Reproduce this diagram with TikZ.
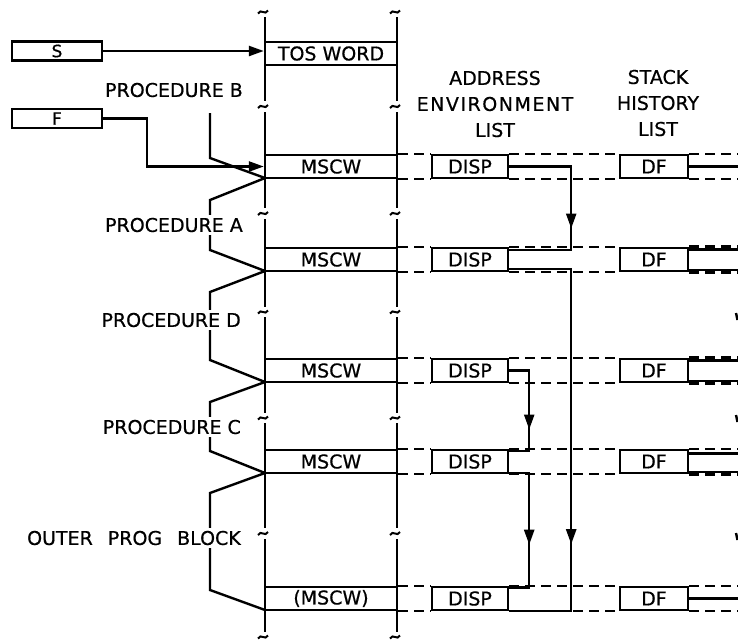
\documentclass[tikz,border=0pt]{standalone}
\usepackage{fontspec}
\setmainfont{DejaVu Sans}[FakeBold=0.6]
\usetikzlibrary{arrows.meta,decorations.markings}
\newcommand\figfont{\fontsize{19}{26}\selectfont}
\newcommand\regfont{\fontsize{17}{20}\selectfont}
\begin{document}
\begin{tikzpicture}[x=1pt,y=-1pt,line width=2.4pt,
  every node/.style={font=\figfont},
  cell/.style={draw,fill=white,minimum height=23pt,inner sep=0pt},
  reg/.style={cell,minimum width=90pt,minimum height=19pt,font=\regfont},
  lbl/.style={anchor=east,fill=white,inner xsep=1pt,inner ysep=3pt},
  lst/.style={dash pattern=on 10pt off 6pt},
  tip/.style={-{Triangle[length=15pt,width=10pt]}},
  flow/.style={decoration={markings,mark=at position #1 with {\arrow{Triangle[length=15pt,width=10pt]}}},postaction={decorate}},
  tld/.pic={\draw[line width=2pt] (-5,1.5) .. controls (-2,-4) and (2,4) .. (5,-1.5);}
]
\useasboundingbox (0,0) rectangle (738,641);
\clip (0,0) rectangle (738,641);
\coordinate (edge) at (745,0);
\coordinate (fk) at (147,0);

% stack lines with break marks
\foreach \x in {265,397} {
  \foreach \a/\b in {17/101,112/208,219/307,317/413,423/528,539/632} \draw (\x,\a) -- (\x,\b);
  \foreach \y in {12,106.5,213.5,312,418,533.5,637} \pic at (\x-2,\y) {tld};
}

% brackets
\draw (210,113) -- (210,158) -- (265,178);
\draw (265,178) -- (210,200) -- (210,250) -- (265,271);
\draw (265,271) -- (210,292) -- (210,360) -- (265,382);
\draw (265,382) -- (210,402) -- (210,451) -- (265,473);
\draw (265,473) -- (210,493) -- (210,590) -- (265,610);

% boxes
\node[reg] (S) at (57,51) {S};
\node[reg] (F) at (57,118.5) {F};
\node[cell,minimum width=132pt] (tos) at (331,53.5) {TOS WORD};
\foreach \i/\y/\t in {1/166.5/MSCW,2/259.5/MSCW,3/370.5/MSCW,4/461.5/MSCW,5/598.5/(MSCW)} {
  \node[cell,minimum width=132pt] (m\i) at (331,\y) {\t};
  \node[cell,minimum width=76pt] (d\i) at (470,\y) {DISP};
  \node[cell,minimum width=68pt] (f\i) at (654,\y) {DF};
}

% list lines
\foreach \i in {1,...,5} {
  \draw[lst] (m\i.north east) -- (d\i.north west) (d\i.north east) -- (f\i.north west);
  \draw[lst] (m\i.south east) -- (d\i.south west) (d\i.south east) -- (f\i.south west);
}
\foreach \i in {1,5} {
  \draw[lst] (f\i.north east) -- (f\i.north east -| edge);
  \draw[lst] (f\i.south east) -- (f\i.south east -| edge);
  \draw (f\i.east) -- (f\i.east -| edge);
}
\foreach \i in {2,3} {
  \draw[lst,line width=3.5pt] (f\i.north east) -- (f\i.north east -| edge);
  \draw[lst,line width=3.5pt] (f\i.south east) -- (f\i.south east -| edge);
  \draw ([yshift=-2.5pt]f\i.north east) -- ([yshift=-2.5pt]f\i.north east -| edge);
  \draw ([yshift=2.5pt]f\i.south east) -- ([yshift=2.5pt]f\i.south east -| edge);
}
\draw[lst] (f4.north east) -- (f4.north east -| edge);
\draw ([yshift=-4.5pt]f4.north east) -- ([yshift=-4.5pt]f4.north east -| edge);
\draw[lst,line width=3.5pt] (f4.south east) -- (f4.south east -| edge);
\draw ([yshift=2.5pt]f4.south east) -- ([yshift=2.5pt]f4.south east -| edge);

% cut-off marks at the right edge
\foreach \y in {313,415,533} \draw (736,\y) -- (737.5,\y+7);

% pointers
\draw[tip] (S.east) -- (S.east -| tos.west);
\draw[tip] (F.east) -- (F.east -| fk) |- (m1.west);

% display chain
\draw[flow=124pt] (d1.east) -- ++(62,0) |- ([yshift=-3pt]d2.north east);
\draw[flow=337pt] ([yshift=3pt]d2.south east) -- ++(62,0) |- (d5.south east);
\draw[flow=79pt] (d3.east) -- ++(20,0) |- ([yshift=-2pt]d4.north east);
\draw[flow=92pt] ([yshift=1.5pt]d4.south east) -- ++(20,0) |- ([yshift=-1.5pt]d5.north east);

% labels
\node[lbl] (lb) at (245,90) {PROCEDURE B};
\node[lbl] (la) at (245,225) {PROCEDURE A};
\node[lbl] (ld) at (243,320) {PROCEDURE D};
\node[lbl] (lc) at (243,427) {PROCEDURE C};
\node[lbl] (lo) at (243,538) {OUTER\hspace{15pt}PROG\hspace{15pt}BLOCK};
\node[align=center] (hae) at (495,104) {ADDRESS\\{\addfontfeature{LetterSpace=8}ENVIRONMENT}\\LIST};
\node[align=center] (hsh) at (658,103) {STACK\\HISTORY\\LIST};
\end{tikzpicture}
\end{document}
